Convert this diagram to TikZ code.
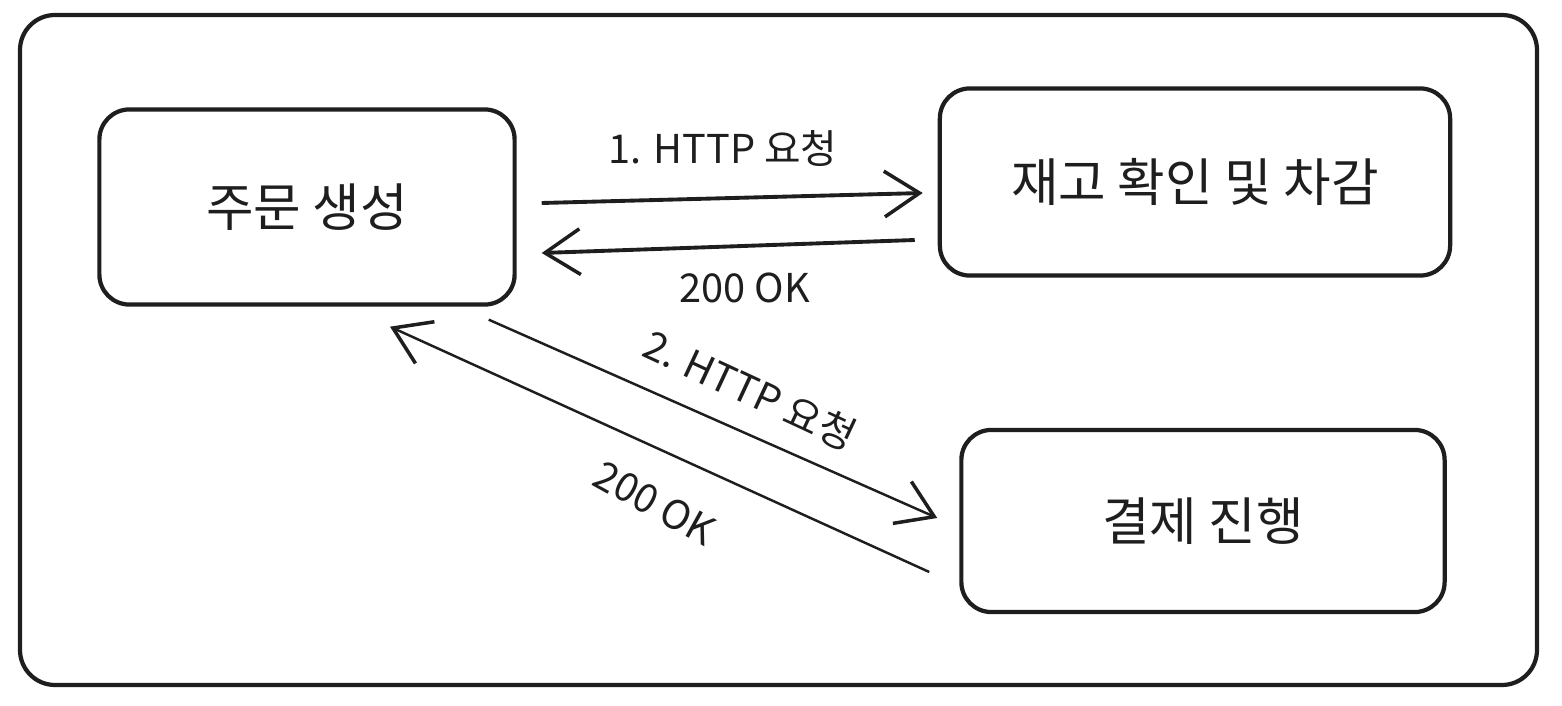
\documentclass[tikz,border=0pt]{standalone}
\usepackage{fontspec}
\setmainfont{Noto Sans CJK KR}
\usepackage{tikz}
\usetikzlibrary{arrows.meta,positioning,calc}
\definecolor{InkBlack}{HTML}{1E1E1E}
\tikzset{
    % Rounded service boxes
    service/.style={
        rectangle,
        rounded corners=0.3cm,
        draw=InkBlack,
        line width=1.2pt,
        fill=white,
        text=InkBlack,
        align=center,
        font=\fontsize{14.7}{17}\selectfont
    },
    arrow/.style={
        -{Straight Barb[length=10pt,width=13pt,line width=1pt]},
        line width=1.1pt,
        color=InkBlack
    },
    arrow thin/.style={
        arrow,
        line width=0.7pt
    },
    edge label/.style={
        text=InkBlack,
        font=\fontsize{11.3}{13}\selectfont
    }
}
\begin{document}
\begin{tikzpicture}[x=0.01cm, y=-0.01cm]
        \useasboundingbox (0,0) rectangle (1562,706);
        % Outer frame
        \draw[draw=InkBlack, line width=1.2pt, rounded corners=0.35cm] (20,15) rectangle (1537,685);

        % Services
        \node[service, minimum width=4.15cm, minimum height=1.95cm] (order) at (307,207) {주문 생성};
        \node[service, minimum width=5.1cm, minimum height=1.87cm] (stock) at (1195,182) {재고 확인 및 차감};
        \node[service, minimum width=4.83cm, minimum height=1.82cm] (pay) at (1203,521) {결제 진행};

        % Arrows
        \draw[arrow] ($(order.east)+(25,-4)$) -- ($(stock.west)+(-15,11)$);
        \draw[arrow] ($(stock.west)+(-23,58)$) -- ($(order.east)+(25,46)$);
        \draw[arrow thin] ($(order.south east)+(-28,13)$) -- ($(pay.west)+(-22,-3)$);
        \draw[arrow thin] ($(pay.west)+(-30,51)$) -- ($(order.south)+(83,20)$);

        % Labels
        \node[edge label] (req1) at (723,148) {1. HTTP 요청};
        \node[edge label] (ok1) at (745,288) {200 OK};
        \node[edge label, rotate=-25] (req2) at (750,390) {2. HTTP 요청};
        \node[edge label, rotate=-29] (ok2) at (655,503) {200 OK};
    \end{tikzpicture}
\end{document}
